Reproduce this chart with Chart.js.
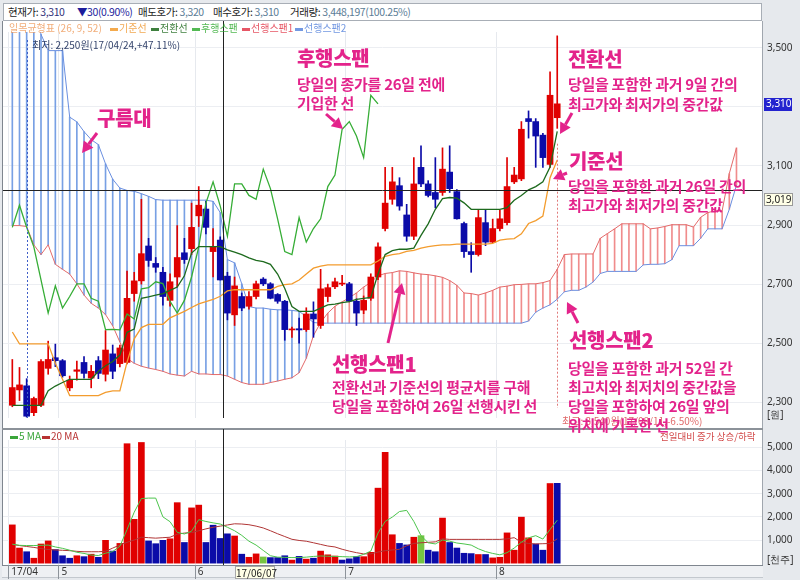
<!DOCTYPE html>
<html>
<head>
<meta charset="utf-8">
<script src="https://cdn.jsdelivr.net/npm/chart.js@4.4.1/dist/chart.umd.min.js"></script>
<style>
  body { margin:0; width:800px; height:580px; background:#e6e9ed; position:relative; overflow:hidden;
         font-family:"Noto Sans CJK KR","Noto Sans",sans-serif; }
  .abs { position:absolute; white-space:nowrap; }
  #hdrBox { left:3px; top:3px; width:757px; height:16px; background:#fff; border:1px solid #a8aeb6; }
  .hd { font-size:10.5px; line-height:14px; top:5px; color:#222; letter-spacing:-0.4px; }
  .hv { color:#5b7d96; }
  #plotBg { left:2px; top:21px; width:761px; height:544px; background:#fff; border-left:1px solid #7f868f; border-right:1px solid #a0a6ae; box-sizing:border-box; }
  #sep { left:2px; top:428px; width:761px; height:2px; background:#8c9299; }
  #dateBar { left:2px; top:565px; width:761px; height:13px; background:#eef0f3; border-top:1px solid #7f868f; border-bottom:1px solid #c3c8ce; box-sizing:border-box; }
  canvas { position:absolute; left:0; }
  .leg { font-size:10px; line-height:12px; top:22px; opacity:0.85; }
  .dash { display:inline-block; width:8px; height:3px; vertical-align:middle; margin-right:1px; }
  .note { color:#e3238b; }
  .t { font-size:20px; line-height:20px; letter-spacing:-0.3px; font-weight:900; }
  .s { font-size:15px; line-height:16px; letter-spacing:-0.3px; font-weight:700; }
  .small { font-size:10px; line-height:12px; }
  #arrows { position:absolute; left:0; top:0; }
</style>
</head>
<body>
<div id="hdrBox" class="abs"></div>
<div class="abs hd" style="left:8px">현재가: <span class="hv" style="color:#33337a">3,310</span></div>
<div class="abs hd" style="left:77px;color:#1c1c9c">▼30(0.90%)</div>
<div class="abs hd" style="left:138px">매도호가: <span class="hv">3,320</span></div>
<div class="abs hd" style="left:213px">매수호가: <span class="hv">3,310</span></div>
<div class="abs hd" style="left:290px">거래량: <span class="hv">3,448,197(100.25%)</span></div>

<div id="plotBg" class="abs"></div>
<div id="sep" class="abs"></div>
<div id="dateBar" class="abs"></div>

<canvas id="pc" width="800" height="408" style="top:21px"></canvas>
<canvas id="vc" width="800" height="151" style="top:429px"></canvas>

<div class="abs leg" style="left:9px;color:#ef9f62">일목균형표 (26, 9, 52)</div>
<div class="abs leg" style="left:110px;color:#ef9a35"><span class="dash" style="background:#f39c2e"></span>기준선</div>
<div class="abs leg" style="left:151px;color:#1d6a1d"><span class="dash" style="background:#1d6a1d"></span>전환선</div>
<div class="abs leg" style="left:192px;color:#36ad36"><span class="dash" style="background:#36ad36"></span>후행스팬</div>
<div class="abs leg" style="left:242px;color:#e2394a"><span class="dash" style="background:#e2394a"></span>선행스팬1</div>
<div class="abs leg" style="left:295px;color:#5a86dd"><span class="dash" style="background:#5a86dd"></span>선행스팬2</div>
<div class="abs small" style="left:32px;top:39px;color:#34446c">최저: 2,250원(17/04/24,+47.11%)</div>

<div class="abs small" style="left:10px;top:430px;color:#3aa63a"><span class="dash" style="background:#3aa63a"></span>5 MA</div>
<div class="abs small" style="left:42px;top:430px;color:#b83232"><span class="dash" style="background:#b83232"></span>20 MA</div>
<div class="abs small" style="left:660px;top:430px;color:#d24848;font-size:9.5px">전일대비 증가 상승/하락</div>
<div class="abs small" style="left:235px;top:566px;width:38px;height:11px;line-height:11px;background:#ffffe6;border:1px solid #a8a8a8;text-align:center;color:#222">17/06/07</div>
<div class="abs small" style="left:562px;top:415px;color:#e06a6a">최고: 3,540원(17/08/11,-6.50%)</div>

<div class="abs note t" style="left:97px;top:108px">구름대</div>
<div class="abs note t" style="left:297px;top:48px">후행스팬</div>
<div class="abs note s" style="left:297px;top:76px">당일의 종가를 26일 전에</div>
<div class="abs note s" style="left:297px;top:95px">기입한 선</div>
<div class="abs note t" style="left:568px;top:49px">전환선</div>
<div class="abs note s" style="left:568px;top:76px">당일을 포함한 과거 9일 간의</div>
<div class="abs note s" style="left:568px;top:96px">최고가와 최저가의 중간값</div>
<div class="abs note t" style="left:569px;top:151px">기준선</div>
<div class="abs note s" style="left:568px;top:178px">당일을 포함한 과거 26일 간의</div>
<div class="abs note s" style="left:568px;top:197px">최고가와 최저가의 중간값</div>
<div class="abs note t" style="left:332px;top:354px">선행스팬1</div>
<div class="abs note s" style="left:332px;top:379px">전환선과 기준선의 평균치를 구해</div>
<div class="abs note s" style="left:332px;top:398px">당일을 포함하여 26일 선행시킨 선</div>
<div class="abs note t" style="left:569px;top:330px">선행스팬2</div>
<div class="abs note s" style="left:568px;top:360px">당일을 포함한 과거 52일 간</div>
<div class="abs note s" style="left:568px;top:379px">최고치와 최저치의 중간값을</div>
<div class="abs note s" style="left:568px;top:398px">당일을 포함하여 26일 앞의</div>
<div class="abs note s" style="left:568px;top:417px">위치에 기록한 선</div>

<svg id="arrows" width="800" height="580"></svg>

<script>
// ---- daily candles (2017/04/20 ~ 2017/08/11) ----
const opens = [2290, 2342, 2356, 2265, 2290, 2415, 2451, 2441, 2349, 2405,
    2435, 2382, 2441, 2395, 2464, 2431, 2435, 2668, 2711, 2829,
    2770, 2740, 2645, 2724, 2806, 2820, 2931, 2954, 2810, 2849,
    2727, 2596, 2658, 2625, 2658, 2717, 2701, 2665, 2642, 2545,
    2549, 2546, 2599, 2560, 2658, 2691, 2700, 2701, 2642, 2612,
    2652, 2724, 2888, 2987, 3033, 2934, 2862, 3095, 3039, 3010,
    3010, 3079, 3013, 2905, 2810, 2800, 2908, 2842, 2888, 2908,
    3046, 3056, 3260, 3250, 3204, 3105, 3263];
const highs = [2445, 2418, 2380, 2318, 2445, 2507, 2497, 2445, 2389, 2440,
    2455, 2425, 2455, 2543, 2494, 2494, 2744, 2740, 2987, 2855,
    2790, 2757, 2735, 2898, 2855, 2974, 3030, 2980, 2888, 2860,
    2740, 2724, 2670, 2675, 2710, 2722, 2705, 2668, 2645, 2555,
    2585, 2620, 2640, 2750, 2700, 2720, 2730, 2706, 2650, 2660,
    2735, 2840, 3095, 3095, 3060, 2970, 3128, 3168, 3050, 3128,
    3161, 3168, 3020, 2910, 2840, 2950, 2950, 2920, 2950, 3128,
    3095, 3250, 3286, 3260, 3210, 3418, 3540];
const lows = [2285, 2306, 2250, 2255, 2285, 2395, 2421, 2385, 2339, 2375,
    2382, 2349, 2380, 2372, 2380, 2420, 2430, 2642, 2700, 2760,
    2740, 2629, 2625, 2690, 2770, 2800, 2895, 2870, 2724, 2714,
    2579, 2560, 2610, 2615, 2650, 2695, 2650, 2635, 2510, 2520,
    2500, 2540, 2520, 2550, 2640, 2685, 2695, 2640, 2560, 2600,
    2645, 2715, 2880, 2970, 2950, 2845, 2850, 3030, 2995, 2958,
    3000, 3010, 2920, 2790, 2740, 2795, 2830, 2840, 2880, 2900,
    3040, 3050, 3194, 3095, 3095, 3095, 3227];
const closes = [2350, 2359, 2253, 2313, 2438, 2445, 2441, 2390, 2375, 2410,
    2398, 2405, 2398, 2477, 2405, 2484, 2652, 2711, 2803, 2780,
    2757, 2658, 2708, 2790, 2783, 2892, 2967, 2892, 2826, 2714,
    2602, 2694, 2619, 2658, 2701, 2701, 2652, 2642, 2546, 2547,
    2545, 2599, 2582, 2684, 2688, 2708, 2702, 2642, 2602, 2645,
    2724, 2826, 2974, 3046, 2964, 2862, 3039, 3039, 3000, 2987,
    3089, 3023, 2921, 2810, 2800, 2925, 2842, 2888, 2921, 3030,
    3069, 3224, 3250, 3201, 3128, 3339, 3310];

// volume, thousand shares
const volumes = [1653, 653, 493, 213, 827, 960, 587, 320, 213, 320,
    280, 387, 253, 987, 520, 853, 5160, 1893, 5213, 960,
    840, 987, 1053, 2613, 893, 2387, 2507, 893, 1640, 1067,
    1267, 1173, 387, 253, 400, 267, 240, 240, 320, 133,
    293, 173, 213, 520, 360, 307, 133, 187, 280, 280,
    467, 3240, 4787, 1227, 853, 787, 1120, 1187, 560, 493,
    1947, 893, 653, 427, 413, 373, 373, 227, 253, 1307,
    560, 1987, 1093, 827, 560, 3440, 3448];
const ma5 = [820, 770, 760, 760, 770, 780, 700, 640, 560, 470,
    420, 350, 330, 430, 500, 730, 1450, 2200, 2790, 2810,
    2810, 2000, 1790, 1330, 1260, 1380, 1880, 1800, 1740, 1690,
    1550, 1400, 1200, 950, 780, 550, 320, 260, 250, 240,
    240, 260, 290, 310, 300, 290, 280, 270, 280, 380,
    520, 1300, 1800, 1990, 2230, 2280, 1800, 1187, 880, 830,
    1000, 950, 870, 830, 780, 620, 500, 420, 360, 453,
    653, 907, 1093, 1187, 1040, 1453, 1853];
const ma20 = [807, 760, 720, 680, 630, 590, 570, 555, 540, 510,
    493, 493, 493, 510, 650, 787, 900, 1000, 1120, 1100,
    1080, 1100, 1120, 1250, 1300, 1320, 1400, 1480, 1550, 1600,
    1650, 1700, 1690, 1660, 1600, 1520, 1400, 1270, 1150, 1030,
    980, 947, 880, 810, 740, 700, 600, 520, 453, 400,
    400, 480, 540, 570, 600, 750, 853, 880, 900, 920,
    1053, 1027, 1027, 1027, 1027, 1027, 1027, 1027, 1027, 1050,
    1100, 900, 850, 830, 840, 850, 1050];

// ---- ichimoku lines ----
const tenkan = [2290, 2290, 2290, 2290, 2290, 2339, 2355, 2367, 2378, 2378,
    2378, 2378, 2405, 2424, 2438, 2460, 2537, 2548, 2652, 2657,
    2663, 2668, 2679, 2690, 2728, 2805, 2827, 2827, 2827, 2827,
    2816, 2808, 2800, 2789, 2780, 2776, 2767, 2734, 2685, 2624,
    2608, 2608, 2608, 2619, 2630, 2632, 2637, 2641, 2648, 2652,
    2655, 2734, 2800, 2813, 2818, 2818, 2822, 2865, 2904, 2953,
    2989, 2993, 2991, 2975, 2953, 2953, 2953, 2953, 2953, 2959,
    2984, 3000, 3019, 3030, 3046, 3096, 3217];
const kijun = [2538, 2498, 2498, 2498, 2498, 2498, 2432, 2378, 2323, 2323,
    2323, 2323, 2323, 2334, 2339, 2339, 2436, 2515, 2553, 2564,
    2564, 2564, 2586, 2597, 2608, 2621, 2633, 2641, 2648, 2659,
    2677, 2681, 2681, 2681, 2681, 2681, 2681, 2692, 2698, 2701,
    2714, 2734, 2754, 2761, 2765, 2765, 2765, 2765, 2765, 2765,
    2765, 2778, 2794, 2800, 2803, 2811, 2814, 2822, 2827, 2830,
    2833, 2833, 2835, 2835, 2835, 2835, 2835, 2838, 2849, 2852,
    2854, 2870, 2905, 2915, 2930, 3060, 3120];
const spanA = [2898, 2898, 2895, 2833, 2800, 2833, 2767, 2750, 2734, 2701,
    2663, 2635, 2619, 2597, 2559, 2504, 2449, 2432, 2422, 2416,
    2411, 2405, 2396, 2392, 2389, 2405, 2396, 2396, 2394, 2394,
    2389, 2378, 2367, 2361, 2361, 2361, 2367, 2372, 2378, 2383,
    2400, 2449, 2526, 2570, 2602, 2625, 2640, 2654, 2670, 2690,
    2706, 2728, 2736, 2739, 2745, 2743, 2738, 2734, 2732, 2728,
    2723, 2712, 2696, 2670, 2668, 2663, 2670, 2679, 2690, 2693,
    2698, 2699, 2701, 2701, 2705, 2712, 2750, 2800, 2802, 2802,
    2802, 2802, 2855, 2871, 2887, 2904, 2904, 2904, 2904, 2887,
    2890, 2895, 2901, 2901, 2901, 2893, 2926, 2942, 2948, 2948,
    3074, 3161];
const spanB = [3650, 3650, 3650, 3650, 3545, 3490, 3490, 3490, 3265, 3249,
    3216, 3189, 3172, 3107, 3055, 3025, 3017, 3014, 3006, 2997,
    2986, 2984, 2984, 2984, 2984, 2984, 2984, 2984, 2980, 2942,
    2783, 2772, 2701, 2624, 2619, 2619, 2615, 2613, 2613, 2611,
    2608, 2590, 2570, 2568, 2568, 2568, 2568, 2568, 2568, 2568,
    2568, 2568, 2568, 2568, 2568, 2568, 2568, 2568, 2568, 2568,
    2568, 2568, 2568, 2568, 2568, 2568, 2568, 2568, 2568, 2568,
    2568, 2568, 2575, 2605, 2619, 2630, 2649, 2674, 2679, 2679,
    2690, 2707, 2736, 2743, 2743, 2743, 2743, 2743, 2765, 2767,
    2767, 2769, 2783, 2830, 2830, 2830, 2855, 2887, 2887, 2887,
    2953, 3035];

const LAG = 25;                 // 후행/선행 shift
const monthTicks = [-0.5, 6.5, 25.5, 46.5, 67.5];
const monthLabels = [' 17/04', ' 5', ' 6', ' 7', ' 8'];
const priceTicks = [2257, 2300, 2500, 2700, 2900, 3100, 3300, 3500];
const volTicks = [120, 1000, 2000, 3000, 4000, 5000];
const lowIdx = 2, highIdx = 76;
const crossIdx = 29.43, crossPrice = 3019, lastPrice = 3310;

const RED = "#e00000", BLUE = "#0b0ba8", GREEN = "#76c442";
const X_MIN = -1.3, X_MAX = 104.56;

const pts = arr => arr.map((v, i) => ({ x: i, y: v }));
const lagging = closes.slice(LAG).map((v, i) => ({ x: i, y: v }));
const candleColor = closes.map((c, i) => c >= opens[i] ? RED : BLUE);
const volColor = closes.map((c, i) => i == 0 || c > closes[i - 1] ? RED : (c < closes[i - 1] ? BLUE : GREEN));
const hatchColor = spanA.map((a, i) => spanB[i] > a ? "#78a0e4" : "#f08c8c");

function fmt(v) { return v.toLocaleString("en-US"); }
const tickFont = { size: 10, family: "Noto Sans" };

// price panel overlays: crosshair, low/high markers, value boxes
const priceOverlay = {
    id: "priceOverlay",
    afterDatasetsDraw(chart) {
        const { ctx, chartArea: a, scales: { x, y } } = chart;
        ctx.save();
        ctx.lineWidth = 1;
        ctx.setLineDash([2, 2]);
        ctx.strokeStyle = "#3f5fc8";
        let px = Math.round(x.getPixelForValue(lowIdx)) + 0.5;
        ctx.beginPath(); ctx.moveTo(px, 19); ctx.lineTo(px, a.bottom); ctx.stroke();
        ctx.strokeStyle = "#e07a7a";
        px = Math.round(x.getPixelForValue(highIdx)) + 0.5;
        ctx.beginPath(); ctx.moveTo(px, y.getPixelForValue(3175)); ctx.lineTo(px, a.bottom - 10); ctx.stroke();
        ctx.setLineDash([]);
        ctx.strokeStyle = "#222";
        const cy = Math.round(y.getPixelForValue(crossPrice)) + 0.5;
        ctx.beginPath(); ctx.moveTo(a.left, cy); ctx.lineTo(a.right, cy); ctx.stroke();
        const cx = Math.round(x.getPixelForValue(crossIdx)) + 0.5;
        ctx.beginPath(); ctx.moveTo(cx, 0); ctx.lineTo(cx, a.bottom); ctx.stroke();
        ctx.restore();
    },
    afterDraw(chart) {
        const { ctx, chartArea: a, scales: { y } } = chart;
        ctx.save();
        ctx.font = "10px 'Noto Sans'";
        ctx.textBaseline = "middle";
        let py = Math.round(y.getPixelForValue(lastPrice));
        ctx.fillStyle = "#2323cf";
        ctx.fillRect(a.right + 2, py - 6, 28, 13);
        ctx.fillStyle = "#fff";
        ctx.fillText(fmt(lastPrice), a.right + 4, py + 0.5);
        py = Math.round(y.getPixelForValue(crossPrice));
        ctx.fillStyle = "#ffffe6";
        ctx.fillRect(a.right + 2, py + 3, 29, 13);
        ctx.strokeStyle = "#9a9a9a";
        ctx.strokeRect(a.right + 2.5, py + 3.5, 28, 12);
        ctx.fillStyle = "#222";
        ctx.fillText(fmt(crossPrice), a.right + 4, py + 10);
        ctx.restore();
    }
};

new Chart(document.getElementById("pc"), {
    type: "bar",
    data: {
        datasets: [
            { type: "line", data: pts(tenkan), borderColor: "#1d6a1d", borderWidth: 1.3, pointRadius: 0, order: 1 },
            { type: "line", data: pts(kijun), borderColor: "#f39c2e", borderWidth: 1.3, pointRadius: 0, order: 1 },
            { type: "line", data: lagging, borderColor: "#36ad36", borderWidth: 1.3, pointRadius: 0, order: 1 },
            { data: closes.map((c, i) => ({ x: i, y: [opens[i], c] })), backgroundColor: candleColor,
              barThickness: 6, minBarLength: 1, grouped: false, order: 2 },
            { data: closes.map((c, i) => ({ x: i, y: [lows[i], highs[i]] })), backgroundColor: candleColor,
              barThickness: 1, grouped: false, order: 3 },
            { type: "line", data: pts(spanA), borderColor: "#e36a6a", borderWidth: 1, pointRadius: 0, order: 4 },
            { type: "line", data: pts(spanB), borderColor: "#6a8fe0", borderWidth: 1, pointRadius: 0, order: 4 },
            { data: spanA.map((v, i) => ({ x: i, y: [v, spanB[i]] })), backgroundColor: hatchColor,
              barThickness: 1, grouped: false, order: 5 }
        ]
    },
    options: {
        responsive: false, animation: false,
        layout: { padding: { left: 3, top: 10, right: 0, bottom: 1 } },
        plugins: { legend: { display: false }, tooltip: { enabled: false } },
        scales: {
            x: {
                type: "linear", min: X_MIN, max: X_MAX, offset: false,
                grid: { offset: false, color: "#e6e9ee", drawTicks: false },
                border: { display: false },
                ticks: { display: false },
                afterBuildTicks: s => { s.ticks = monthTicks.map(v => ({ value: v })); },
                afterFit: s => { s.height = 0; }
            },
            y: {
                position: "right", min: 2247, max: 3553,
                afterBuildTicks: s => { s.ticks = priceTicks.map(v => ({ value: v })); },
                afterFit: s => { s.width = 38; },
                border: { display: false },
                grid: { drawTicks: false, color: c => (c.tick && (c.tick.value == 2257)) ? "rgba(0,0,0,0)" : "#eceef2" },
                ticks: {
                    padding: 5, color: "#333", font: tickFont,
                    callback: v => v == 2257 ? "[원]" : (v == 3300 ? "" : fmt(v))
                }
            }
        }
    },
    plugins: [priceOverlay]
});

const volOverlay = {
    id: "volOverlay",
    afterDatasetsDraw(chart) {
        const { ctx, chartArea: a, scales: { x } } = chart;
        ctx.save();
        ctx.strokeStyle = "#222"; ctx.lineWidth = 1;
        const cx = Math.round(x.getPixelForValue(crossIdx)) + 0.5;
        ctx.beginPath(); ctx.moveTo(cx, 0); ctx.lineTo(cx, a.bottom); ctx.stroke();
        ctx.restore();
    }
};

new Chart(document.getElementById("vc"), {
    type: "bar",
    data: {
        datasets: [
            { type: "line", data: pts(ma5), borderColor: "#4cc44c", borderWidth: 1, pointRadius: 0, order: 1 },
            { type: "line", data: pts(ma20), borderColor: "#b03535", borderWidth: 1, pointRadius: 0, order: 1 },
            { data: pts(volumes), backgroundColor: volColor, barThickness: 6, grouped: false, order: 2 }
        ]
    },
    options: {
        responsive: false, animation: false,
        layout: { padding: { left: 3, top: 1, right: 0, bottom: 0 } },
        plugins: { legend: { display: false }, tooltip: { enabled: false } },
        scales: {
            x: {
                type: "linear", min: X_MIN, max: X_MAX, offset: false,
                grid: { offset: false, color: "#e6e9ee", tickLength: 14, tickColor: "#8d939a" },
                border: { display: false },
                ticks: {
                    align: "start", padding: -13, color: "#333", font: tickFont, maxRotation: 0,
                    callback: v => monthLabels[monthTicks.indexOf(v)]
                },
                afterBuildTicks: s => { s.ticks = monthTicks.map(v => ({ value: v })); },
                afterFit: s => { s.height = 15; }
            },
            y: {
                position: "right", min: -80, max: 5320,
                afterBuildTicks: s => { s.ticks = volTicks.map(v => ({ value: v })); },
                afterFit: s => { s.width = 38; },
                border: { display: false },
                grid: { drawTicks: false, color: c => (c.tick && c.tick.value == 120) ? "rgba(0,0,0,0)" : "#eceef2" },
                ticks: {
                    padding: 5, color: "#333", font: tickFont,
                    callback: v => v == 120 ? "[천주]" : fmt(v)
                }
            }
        }
    },
    plugins: [volOverlay]
});

// pink callout arrows
const arrowList = [
    [97, 133, 82, 153], [326, 114, 343, 129], [572, 113, 560, 134],
    [567, 173, 553, 179], [578, 323, 567, 302], [388, 343, 402, 283]
];
const svg = document.getElementById("arrows");
let html = "";
arrowList.forEach(([x1, y1, x2, y2]) => {
    const len = Math.hypot(x2 - x1, y2 - y1), ux = (x2 - x1) / len, uy = (y2 - y1) / len;
    const bx = x2 - ux * 11, by = y2 - uy * 11;
    html += `<line x1="${x1}" y1="${y1}" x2="${bx}" y2="${by}" stroke="#e3238b" stroke-width="3"/>`;
    html += `<polygon points="${x2},${y2} ${bx - uy * 6},${by + ux * 6} ${bx + uy * 6},${by - ux * 6}" fill="#e3238b"/>`;
});
svg.innerHTML = html;
</script>
</body>
</html>
